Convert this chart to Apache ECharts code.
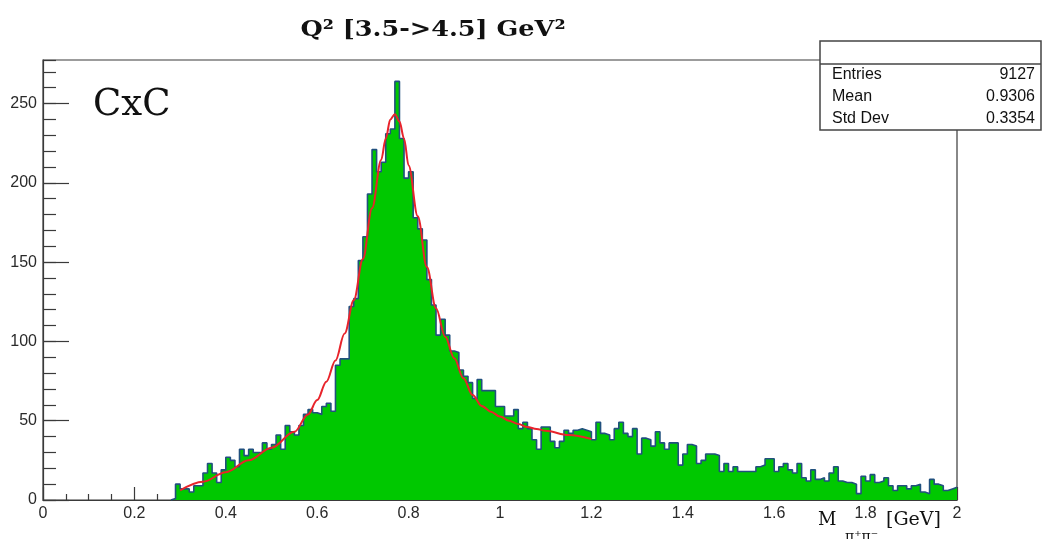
<!DOCTYPE html>
<html>
<head>
<meta charset="utf-8">
<script src="https://cdn.jsdelivr.net/npm/echarts@6/dist/echarts.min.js"></script>
<style>
html, body { margin: 0; padding: 0; background: #fff; }
#chart { width: 1043px; height: 539px; }
</style>
</head>
<body>
<div id="chart"></div>
<script>
// Invariant mass of the pi+ pi- pair, Q^2 in [3.5, 4.5] GeV^2, 0.01 GeV bins
const firstBinLow = 0.28;
const binWidth = 0.01;
const counts = [
  1, 10, 7, 7, 5, 9, 9, 17, 23, 17, 11, 19,            // 0.28 - 0.39
  27, 25, 21, 32, 28, 32, 30, 30, 36, 32,              // 0.40 - 0.49
  35, 41, 32, 47, 43, 41, 47, 54, 57, 55,              // 0.50 - 0.59
  54, 59, 61, 56, 85, 89, 89, 122, 127, 151,           // 0.60 - 0.69
  166, 193, 221, 207, 213, 231, 234, 264, 228, 203,    // 0.70 - 0.79
  207, 178, 171, 164, 139, 123, 104, 114, 104, 94,     // 0.80 - 0.89
  93, 82, 78, 74, 64, 76, 69, 69, 69, 59,              // 0.90 - 0.99
  59, 53, 53, 57, 45, 49, 45, 38, 32, 46,              // 1.00 - 1.09
  46, 37, 33, 37, 44, 42, 44, 45, 44, 43,              // 1.10 - 1.19
  38, 49, 42, 41, 38, 45, 49, 42, 40, 45,              // 1.20 - 1.29
  29, 39, 38, 34, 43, 36, 32, 36, 36, 22,              // 1.30 - 1.39
  29, 35, 34, 23, 25, 29, 29, 28, 18, 23,              // 1.40 - 1.49
  18, 21, 18, 18, 18, 18, 21, 22, 26, 26,              // 1.50 - 1.59
  18, 21, 23, 19, 17, 23, 14, 12, 19, 13,              // 1.60 - 1.69
  14, 12, 17, 21, 12, 11, 11, 10, 4, 15,               // 1.70 - 1.79
  12, 16, 11, 12, 14, 9, 6, 9, 9, 7,                   // 1.80 - 1.89
  9, 10, 5, 4, 13, 10, 9, 6, 7, 8                      // 1.90 - 1.99
];

// fitted resonance + background curve
const fitMass  = [0.30, 0.35, 0.40, 0.45, 0.50, 0.55, 0.58, 0.60, 0.62, 0.64, 0.66, 0.68,
                  0.70, 0.72, 0.74, 0.75, 0.76, 0.77, 0.78, 0.79, 0.80, 0.82, 0.84, 0.86,
                  0.88, 0.90, 0.92, 0.94, 0.96, 0.98, 1.00, 1.02, 1.04, 1.06, 1.08, 1.10,
                  1.15, 1.20];
const fitValue = [6, 11.5, 17.5, 25, 33, 43, 54, 63, 74.6, 88, 105, 126,
                  152, 184, 214.5, 228, 240, 243.3, 238.7, 228, 211, 179, 147, 121,
                  103, 89.4, 76.8, 66.2, 59.3, 55.7, 52.6, 50, 47.9, 46, 44.8, 43.6,
                  41, 38.5];

const statNames  = ['Entries', 'Mean', 'Std Dev'];
const statValues = ['9127', '0.9306', '0.3354'];

const titleText = 'Q\u00B2 [3.5->4.5] GeV\u00B2';
const tagText = 'CxC';

// step outline: one point per lower bin edge, closed at the upper edge of the last bin
const histData = [[firstBinLow, 0]];
counts.forEach((c, i) => histData.push([+(firstBinLow + i * binWidth).toFixed(2), c]));
histData.push([+(firstBinLow + counts.length * binWidth).toFixed(2), counts[counts.length - 1]]);

const fitData = fitMass.map((m, i) => [m, fitValue[i]]);

const axisColor = '#3a3a3a';
const labelFont = { fontFamily: 'Liberation Sans', fontSize: 16, color: '#2a2a2a' };

const chart = echarts.init(document.getElementById('chart'), null, { renderer: 'canvas' });

const statTop = 41, statLeft = 820, statRight = 1041, statBottom = 130, statHead = 64;
const statRowH = (statBottom - statHead) / statNames.length;

function label(text, x, y, align, font, extra) {
  return Object.assign({
    type: 'text', z: 50, x: x, y: y,
    style: Object.assign({
      text: text, x: 0, y: 0, align: align, verticalAlign: 'middle',
      textAlign: align, textVerticalAlign: 'middle', fill: '#111'
    }, font)
  }, extra || {});
}

const graphics = [
  label(titleText, 433, 30, 'center',
        { fontFamily: 'DejaVu Serif', fontWeight: 'bold', fontSize: 22 }, { scaleX: 1.16 }),
  label(tagText, 93, 105, 'left', { fontFamily: 'DejaVu Serif', fontSize: 37 }),
  {
    type: 'rect', z: 60,
    shape: { x: statLeft, y: statTop, width: statRight - statLeft, height: statBottom - statTop },
    style: { fill: '#fff', stroke: '#444', lineWidth: 1.5 }
  },
  {
    type: 'line', z: 61,
    shape: { x1: statLeft, y1: statHead, x2: statRight, y2: statHead },
    style: { stroke: '#444', lineWidth: 1.5 }
  },
  // axis title
  label('M', 818, 520, 'left', { fontFamily: 'DejaVu Serif', fontSize: 18 }),
  label('\u03C0\u207A\u03C0\u207B', 845, 537, 'left', { fontFamily: 'DejaVu Serif', fontSize: 14 }),
  label('[GeV]', 886, 520, 'left', { fontFamily: 'DejaVu Serif', fontSize: 19 })
];

statNames.forEach((name, i) => {
  const cy = statHead + statRowH * (i + 0.5);
  graphics.push(label(name, statLeft + 12, cy, 'left',
                      { fontFamily: 'Liberation Sans', fontSize: 16 }, { z: 62 }));
  graphics.push(label(statValues[i], statRight - 6, cy, 'right',
                      { fontFamily: 'Liberation Sans', fontSize: 16 }, { z: 62 }));
});

chart.setOption({
  animation: false,
  backgroundColor: '#fff',
  grid: {
    left: 43, right: 86, top: 60, bottom: 39,
    show: true, borderColor: axisColor, borderWidth: 1.2, backgroundColor: 'transparent',
    containLabel: false, outerBoundsMode: 'none'
  },
  xAxis: {
    type: 'value', min: 0, max: 2, interval: 0.2,
    axisLine: { show: true, lineStyle: { color: axisColor, width: 1.2 } },
    axisTick: { show: true, inside: true, length: 13, lineStyle: { color: axisColor, width: 1.2 } },
    minorTick: { show: true, splitNumber: 4, length: 6, lineStyle: { color: axisColor, width: 1.2 } },
    axisLabel: Object.assign({ margin: 6, showMinLabel: true, showMaxLabel: true, hideOverlap: false }, labelFont),
    splitLine: { show: false }
  },
  yAxis: [
    {
      type: 'value', min: 0, max: 277.5, interval: 50,
      axisLine: { show: true, lineStyle: { color: axisColor, width: 1.2 } },
      axisTick: { show: true, inside: true, length: 26, lineStyle: { color: axisColor, width: 1.2 } },
      axisLabel: Object.assign({ margin: 6, showMaxLabel: false, hideOverlap: false }, labelFont),
      splitLine: { show: false }
    },
    {
      // finer 10-count ticks
      type: 'value', min: 0, max: 277.5, interval: 10, position: 'left', offset: 0,
      axisLine: { show: false },
      axisTick: { show: true, inside: true, length: 13, lineStyle: { color: axisColor, width: 1.2 } },
      axisLabel: { show: false },
      splitLine: { show: false }
    }
  ],
  series: [
    {
      type: 'line', name: 'counts', data: histData, step: 'end',
      symbol: 'none', z: 3,
      lineStyle: { color: '#21507e', width: 1.6 },
      areaStyle: { color: '#00c800', opacity: 1, origin: 'start' }
    },
    {
      type: 'line', name: 'fit', data: fitData, smooth: 0.35, smoothMonotone: 'x',
      symbol: 'none', z: 4,
      lineStyle: { color: '#e8232b', width: 2 }
    }
  ],
  graphic: graphics
});
</script>
</body>
</html>
